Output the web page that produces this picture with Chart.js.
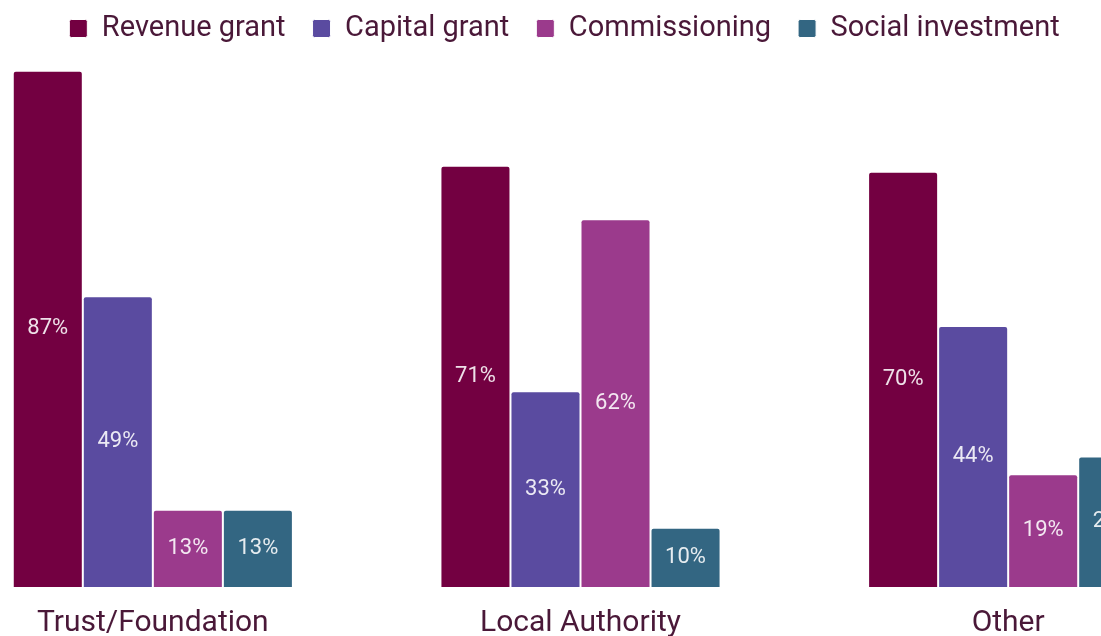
<!DOCTYPE html>
<html>
<head>
<meta charset="utf-8">
<script src="https://cdn.jsdelivr.net/npm/chart.js@4/dist/chart.umd.min.js"></script>
<style>
  html, body { margin: 0; padding: 0; background: #fff; overflow: hidden; }
  #wrap { position: relative; width: 1101px; height: 636px; overflow: hidden; }
  #myChart { position: absolute; left: -61px; top: -13px; }
</style>
</head>
<body>
<div id="wrap"><canvas id="myChart" width="1283" height="664"></canvas></div>
<script>
const categories = ["Trust/Foundation", "Local Authority", "Other"]
const revenueGrant = [87, 71, 70]
const capitalGrant = [49, 33, 44]
const commissioning = [13, 62, 19]
const socialInvestment = [13, 10, 22]

const textColor = "#4a1838"

// writes the value in the middle of each bar
const barLabels = {
    id: "barLabels",
    afterDatasetsDraw(chart) {
        const ctx = chart.ctx
        ctx.save()
        ctx.font = "22px Roboto"
        ctx.fillStyle = "rgba(255, 255, 255, 0.88)"
        ctx.textAlign = "center"
        ctx.textBaseline = "middle"
        chart.data.datasets.forEach((ds, i) => {
            chart.getDatasetMeta(i).data.forEach((bar, j) => {
                const mid = (bar.y + bar.base) / 2
                ctx.fillText(ds.data[j] + "%", bar.x, mid)
            })
        })
        ctx.restore()
    }
}

// legend sits a bit left of centre in the original
const legendShift = {
    id: "legendShift",
    afterLayout(chart) {
        chart.legend.left -= 16
        chart.legend.right -= 16
    }
}

const makeSet = (label, data, color) => ({
    label: label,
    data: data,
    backgroundColor: color,
    borderColor: "#ffffff",
    borderWidth: 1,
    borderRadius: 3,
    borderSkipped: "bottom",
    categoryPercentage: 0.655,
    barPercentage: 1
})

const myChart = new Chart(document.getElementById("myChart").getContext("2d"), {
    type: "bar",
    data: {
        labels: categories,
        datasets: [
            makeSet("Revenue grant", revenueGrant, "#730041"),
            makeSet("Capital grant", capitalGrant, "#5a4ba0"),
            makeSet("Commissioning", commissioning, "#9b3a8c"),
            makeSet("Social investment", socialInvestment, "#336682")
        ]
    },
    options: {
        responsive: false,
        animation: false,
        layout: { padding: 0 },
        plugins: {
            legend: {
                position: "top",
                labels: {
                    color: textColor,
                    font: { family: "Roboto", size: 29 },
                    boxWidth: 18,
                    boxHeight: 18,
                    useBorderRadius: true,
                    borderRadius: 2,
                    padding: 27
                }
            },
            tooltip: { enabled: false }
        },
        scales: {
            x: {
                grid: { display: false },
                border: { display: false },
                ticks: {
                    color: textColor,
                    font: { family: "Roboto", size: 30 },
                    padding: 10
                }
            },
            y: {
                display: false,
                min: 0,
                max: 90
            }
        }
    },
    plugins: [barLabels, legendShift]
})
</script>
</body>
</html>
